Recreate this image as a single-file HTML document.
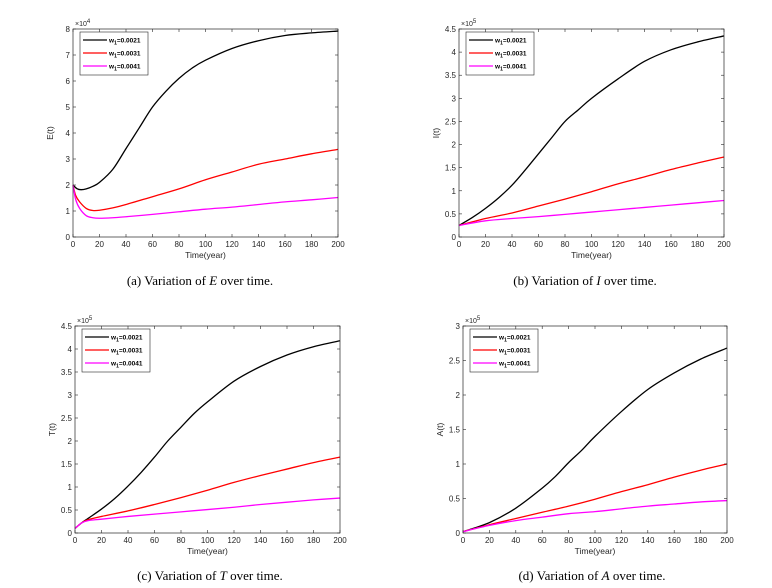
<!DOCTYPE html>
<html><head><meta charset="utf-8"><style>
body{margin:0;background:#fff;width:772px;height:588px;overflow:hidden}
svg{display:block}
text{font-family:"Liberation Sans",Arial,sans-serif}
.cap{font-family:"Liberation Serif",serif;font-size:13px}
</style></head><body>
<svg id="chart" width="772" height="588" viewBox="0 0 772 588" xmlns="http://www.w3.org/2000/svg"></svg>
<script>
// ---- data ----
const xTicks = [0,20,40,60,80,100,120,140,160,180,200];
const seriesLabels = ["0.0021","0.0031","0.0041"];
const seriesColors = ["#000000","#ff0000","#ff00ff"];

const eBlackX = [0,3,6,10,15,20,30,40,50,60,70,80,90,100,120,140,160,180,200];
const eBlackY = [2.0,1.86,1.82,1.85,1.95,2.1,2.6,3.4,4.2,5.0,5.6,6.1,6.5,6.8,7.25,7.55,7.75,7.85,7.92];
const eRedX = [0,2,5,10,15,20,30,40,60,80,100,120,140,160,180,200];
const eRedY = [2.0,1.6,1.35,1.1,1.02,1.03,1.12,1.25,1.55,1.85,2.2,2.5,2.8,3.0,3.2,3.37];
const eMagX = [0,2,5,10,15,20,30,40,60,80,100,120,140,160,180,200];
const eMagY = [2.0,1.45,1.1,0.82,0.74,0.72,0.74,0.78,0.87,0.97,1.07,1.15,1.25,1.35,1.43,1.52];

const iBlackX = [0,10,20,30,40,50,60,70,80,90,100,120,140,160,180,200];
const iBlackY = [0.25,0.42,0.62,0.85,1.12,1.45,1.8,2.15,2.5,2.75,3.0,3.42,3.8,4.05,4.22,4.35];
const iRedX = [0,20,40,60,80,100,120,140,160,180,200];
const iRedY = [0.25,0.4,0.52,0.67,0.82,0.98,1.15,1.3,1.46,1.6,1.73];
const iMagX = [0,20,40,60,80,100,120,140,160,180,200];
const iMagY = [0.25,0.35,0.4,0.44,0.49,0.54,0.59,0.64,0.69,0.74,0.79];

const tBlackX = [0,5,10,20,30,40,50,60,70,80,90,100,120,140,160,180,200];
const tBlackY = [0.1,0.22,0.32,0.52,0.75,1.02,1.32,1.65,2.0,2.3,2.6,2.85,3.3,3.62,3.87,4.05,4.18];
const tRedX = [0,5,10,20,40,60,80,100,120,140,160,180,200];
const tRedY = [0.1,0.22,0.29,0.36,0.48,0.62,0.77,0.93,1.1,1.25,1.39,1.53,1.65];
const tMagX = [0,5,10,20,40,60,80,100,120,140,160,180,200];
const tMagY = [0.1,0.22,0.27,0.3,0.36,0.41,0.46,0.51,0.56,0.62,0.67,0.72,0.76];

const aBlackX = [0,20,40,60,70,80,90,100,120,140,160,180,200];
const aBlackY = [0.02,0.15,0.36,0.65,0.82,1.02,1.2,1.4,1.76,2.08,2.32,2.52,2.68];
const aRedX = [0,20,40,60,80,100,120,140,160,180,200];
const aRedY = [0.02,0.12,0.21,0.3,0.39,0.49,0.6,0.7,0.81,0.91,1.0];
const aMagX = [0,20,40,60,80,100,120,140,160,180,200];
const aMagY = [0.02,0.11,0.18,0.23,0.28,0.31,0.35,0.39,0.42,0.45,0.47];

const eTicks = [0,1,2,3,4,5,6,7,8];
const iTicks = [0,0.5,1,1.5,2,2.5,3,3.5,4,4.5];
const aTicks = [0,0.5,1,1.5,2,2.5,3];

const panels = [
 {name:"panel-e",x0:73,x1:338,y0:29,y1:237,ticks:eTicks,ymax:8,exp:"4",ylab:"E(t)",cap:["(a) Variation of ","E"," over time."],capX:200,capY:285,
  xs:[eBlackX,eRedX,eMagX],ys:[eBlackY,eRedY,eMagY]},
 {name:"panel-i",x0:459,x1:724,y0:29,y1:237,ticks:iTicks,ymax:4.5,exp:"5",ylab:"I(t)",cap:["(b) Variation of ","I"," over time."],capX:585,capY:285,
  xs:[iBlackX,iRedX,iMagX],ys:[iBlackY,iRedY,iMagY]},
 {name:"panel-t",x0:75,x1:340,y0:326,y1:533,ticks:iTicks,ymax:4.5,exp:"5",ylab:"T(t)",cap:["(c) Variation of ","T"," over time."],capX:210,capY:580,
  xs:[tBlackX,tRedX,tMagX],ys:[tBlackY,tRedY,tMagY]},
 {name:"panel-a",x0:463,x1:727,y0:326,y1:533,ticks:aTicks,ymax:3,exp:"5",ylab:"A(t)",cap:["(d) Variation of ","A"," over time."],capX:592,capY:580,
  xs:[aBlackX,aRedX,aMagX],ys:[aBlackY,aRedY,aMagY]}
];

const NS="http://www.w3.org/2000/svg";
const svg=document.getElementById('chart');
function mk(tag,attrs,parent){const e=document.createElementNS(NS,tag);for(const k in attrs)e.setAttribute(k,attrs[k]);(parent||svg).appendChild(e);return e;}
function smooth(pts){
  let d=`M${pts[0][0].toFixed(2)},${pts[0][1].toFixed(2)}`;
  for(let i=0;i<pts.length-1;i++){
    const p0=pts[Math.max(0,i-1)],p1=pts[i],p2=pts[i+1],p3=pts[Math.min(pts.length-1,i+2)];
    const c1=[p1[0]+(p2[0]-p0[0])/6,p1[1]+(p2[1]-p0[1])/6];
    const c2=[p2[0]-(p3[0]-p1[0])/6,p2[1]-(p3[1]-p1[1])/6];
    d+=` C${c1[0].toFixed(2)},${c1[1].toFixed(2)} ${c2[0].toFixed(2)},${c2[1].toFixed(2)} ${p2[0].toFixed(2)},${p2[1].toFixed(2)}`;
  }
  return d;
}
panels.forEach(p=>{
  const g=mk('g',{});
  
  
  const sx=v=>p.x0+(v-0)/200*(p.x1-p.x0);
  const sy=v=>p.y1-v/p.ymax*(p.y1-p.y0);
  // series
  p.xs.forEach((xa,si)=>{
    const pts=xa.map((x,i)=>[sx(x),sy(p.ys[si][i])]);
    const path=mk('path',{d:smooth(pts),fill:'none',stroke:seriesColors[si],'stroke-width':1.3},g);
    
    
  });
  // axes box
  const box=mk('rect',{x:p.x0,y:p.y0,width:p.x1-p.x0,height:p.y1-p.y0,fill:'none',stroke:'#262626','stroke-width':0.7},g);
  
  
  xTicks.forEach(t=>{
    const x=sx(t);
    mk('line',{x1:x,x2:x,y1:p.y1,y2:p.y1-3,stroke:'#262626','stroke-width':0.6},g);
    mk('line',{x1:x,x2:x,y1:p.y0,y2:p.y0+3,stroke:'#262626','stroke-width':0.6},g);
    const tx=mk('text',{x:x,y:p.y1+10,'font-size':8,'text-anchor':'middle',fill:'#262626'},g);
    tx.textContent=t;
    
    
  });
  p.ticks.forEach(t=>{
    const y=sy(t);
    mk('line',{x1:p.x0,x2:p.x0+3,y1:y,y2:y,stroke:'#262626','stroke-width':0.6},g);
    mk('line',{x1:p.x1,x2:p.x1-3,y1:y,y2:y,stroke:'#262626','stroke-width':0.6},g);
    const tx=mk('text',{x:p.x0-3,y:y+3,'font-size':8,'text-anchor':'end',fill:'#262626'},g);
    tx.textContent=t;
    
    
  });
  const ex=mk('text',{x:p.x0+2,y:p.y0-3,'font-size':7,fill:'#262626'},g);
  ex.innerHTML='×10<tspan dy="-3" font-size="6">'+p.exp+'</tspan>';
  
  
  const xl=mk('text',{x:(p.x0+p.x1)/2,y:p.y1+21,'font-size':8.5,'text-anchor':'middle',fill:'#262626'},g);
  xl.textContent='Time(year)';
  
  
  const yl=mk('text',{x:0,y:0,'font-size':8.5,'text-anchor':'middle',fill:'#262626',transform:`translate(${p.x0-20},${(p.y0+p.y1)/2}) rotate(-90)`},g);
  yl.textContent=p.ylab;
  
  
  // legend
  const lg=mk('g',{},g);
  
  
  const lx=p.x0+7,ly=p.y0+3;
  mk('rect',{x:lx,y:ly,width:68,height:43,fill:'#fff',stroke:'#262626','stroke-width':0.6},lg);
  seriesLabels.forEach((s,i)=>{
    const yy=ly+8+i*13;
    const ent=mk('g',{},lg);
    
    
    mk('line',{x1:lx+3,x2:lx+27,y1:yy,y2:yy,stroke:seriesColors[i],'stroke-width':1.3},ent);
    const t=mk('text',{x:lx+29,y:yy+2.5,'font-size':6.5,'font-weight':'bold',fill:'#000'},ent);
    t.innerHTML='w<tspan dy="2" font-size="5">1</tspan><tspan dy="-2">='+s+'</tspan>';
  });
  const cap=mk('text',{x:p.capX,y:p.capY,'text-anchor':'middle',class:'cap',fill:'#000'},g);
  cap.innerHTML=p.cap[0]+'<tspan font-style="italic">'+p.cap[1]+'</tspan>'+p.cap[2];
  
  
});
</script>
</body></html>
